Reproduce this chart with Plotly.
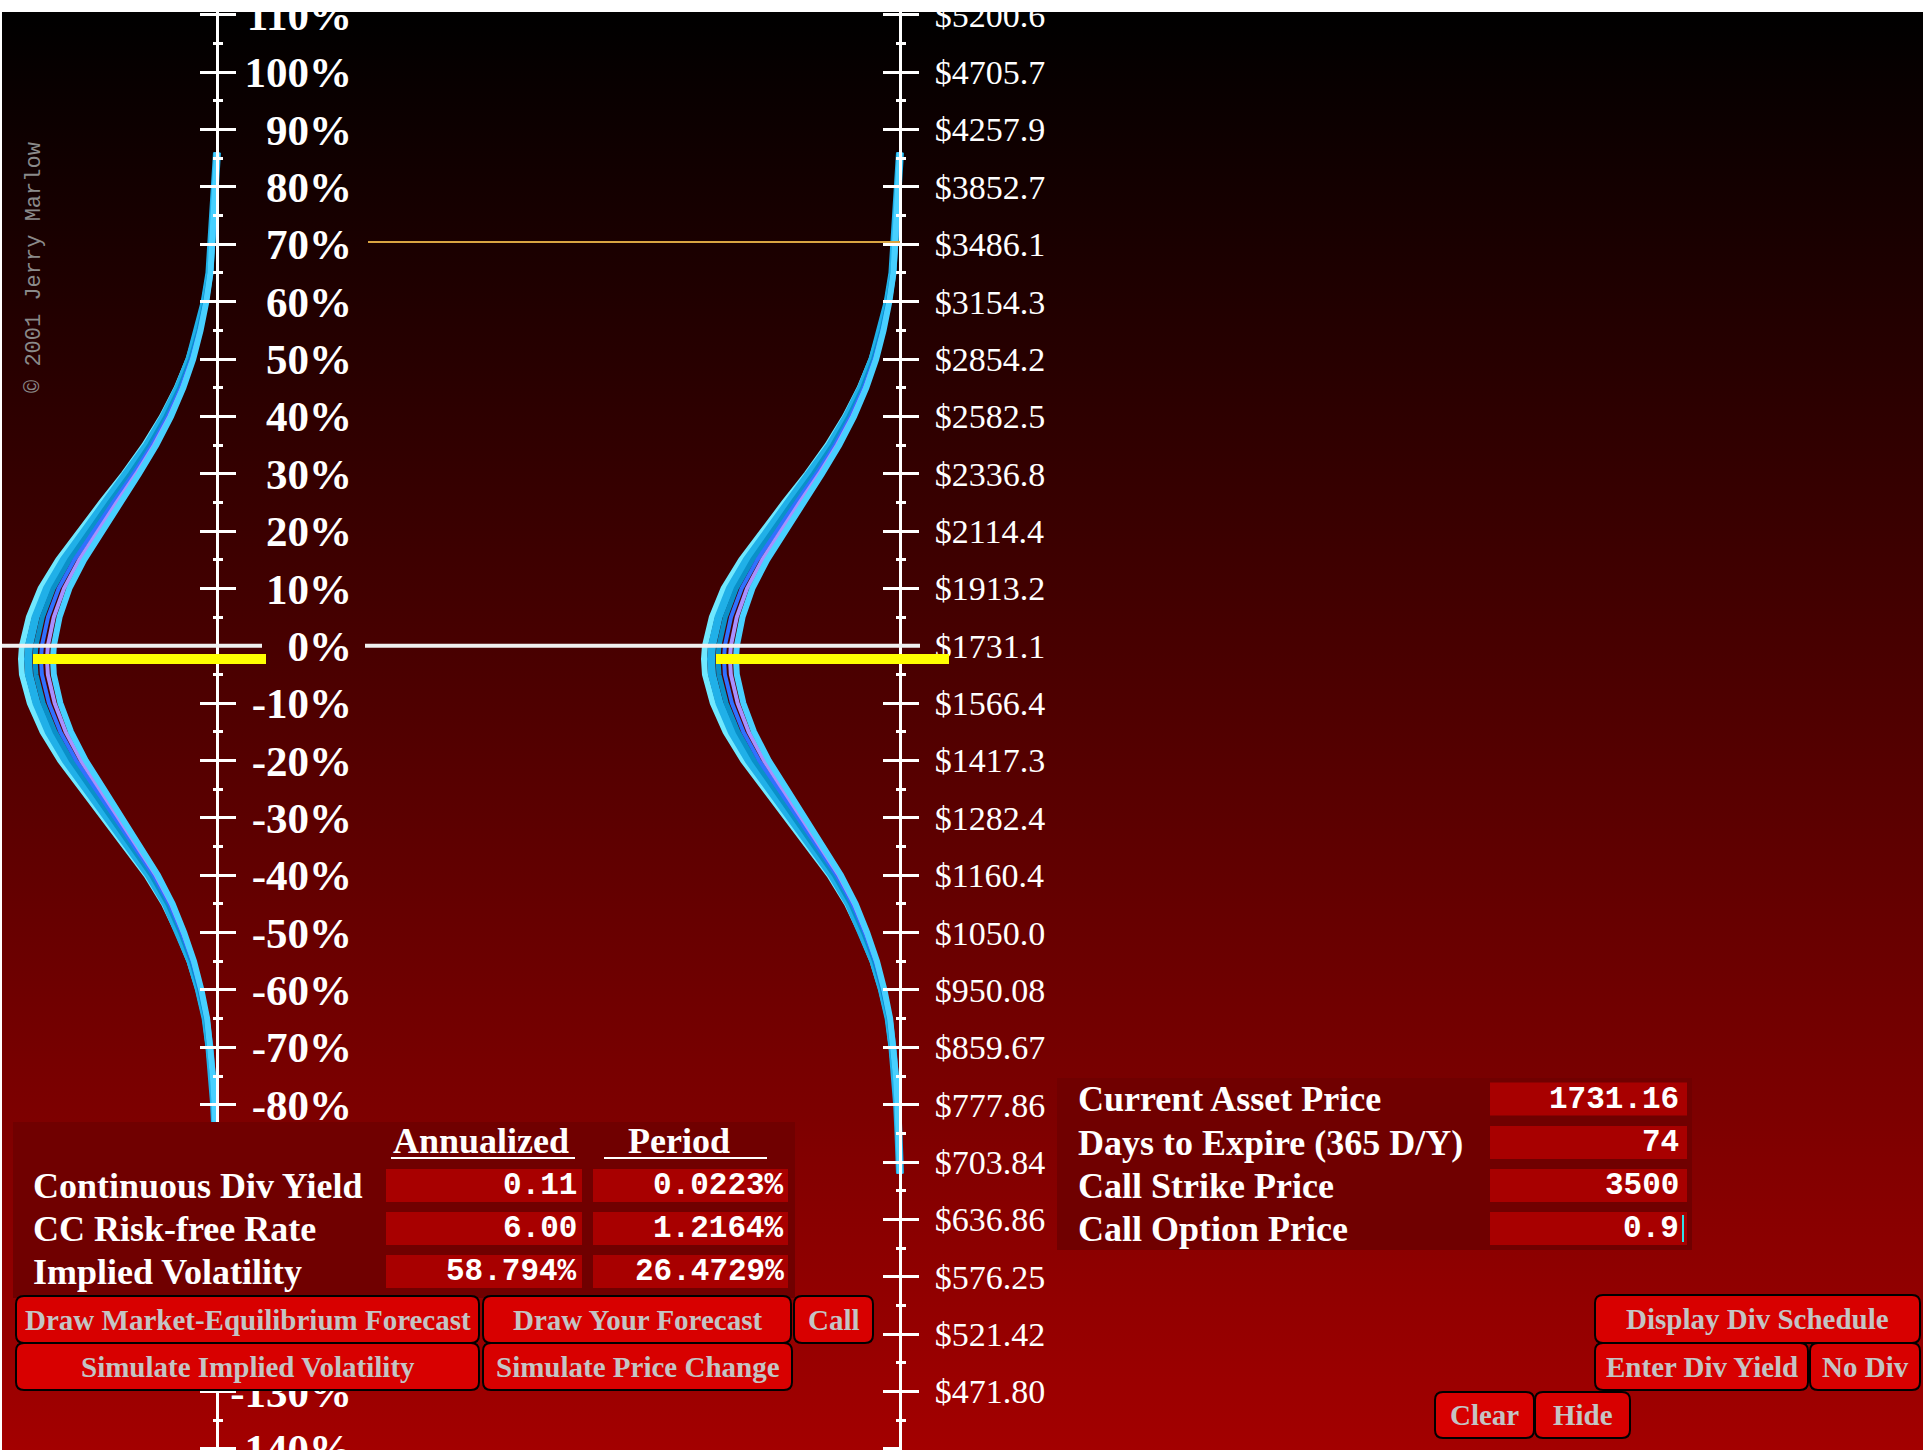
import base64
import plotly.graph_objects as go

W, H = 1923, 1450

# ---- chart data ----
pct_ticks = [110, 100, 90, 80, 70, 60, 50, 40, 30, 20, 10, 0, -10, -20, -30, -40,
             -50, -60, -70, -80, -90, -100, -110, -120, -130, -140]
pct_labels = ["110%", "100%", "90%", "80%", "70%", "60%", "50%", "40%", "30%", "20%",
              "10%", "0%", "-10%", "-20%", "-30%", "-40%", "-50%", "-60%", "-70%",
              "-80%", "-90%", "-100%", "-110%", "-120%", "-130%", "-140%"]
minor_ticks = [105, 95, 85, 75, 65, 55, 45, 35, 25, 15, 5, -5, -15, -25, -35, -45,
               -55, -65, -75, -85, -95, -105, -115, -125, -135]
price_ticks = pct_ticks[:-1]
price_labels = ["$5200.6", "$4705.7", "$4257.9", "$3852.7", "$3486.1", "$3154.3",
                "$2854.2", "$2582.5", "$2336.8", "$2114.4", "$1913.2", "$1731.1",
                "$1566.4", "$1417.3", "$1282.4", "$1160.4", "$1050.0", "$950.08",
                "$859.67", "$777.86", "$703.84", "$636.86", "$576.25", "$521.42",
                "$471.80"]

# forecast density: log-return (%) vs relative height of the bell
dens_ret = [86, 80, 75, 70, 65, 60, 55, 50, 45, 40, 35, 30, 25, 20, 15, 10, 5, 0, -2.3,
            -5, -10, -15, -20, -25, -30, -35, -40, -45, -50, -55, -60, -65, -70, -75,
            -80, -85, -92]
dens_val = [0.0, 0.01, 0.015, 0.025, 0.04, 0.065, 0.1, 0.145, 0.205, 0.28, 0.37, 0.475,
            0.59, 0.70, 0.81, 0.90, 0.96, 0.995, 1.0, 0.995, 0.955, 0.89, 0.80, 0.69,
            0.58, 0.47, 0.36, 0.27, 0.20, 0.14, 0.095, 0.06, 0.04, 0.025, 0.015, 0.008, 0.0]

mean_ret = -2.3      # yellow marker
strike_ret = 70.4    # strike 3500 on the price scale
zero_ret = 0

rate_rows = ["Continuous Div Yield", "CC Risk-free Rate", "Implied Volatility"]
annualized_vals = ["0.11", "6.00", "58.794%"]
period_vals = ["0.0223%", "1.2164%", "26.4729%"]
input_rows = ["Current Asset Price", "Days to Expire (365 D/Y)", "Call Strike Price",
              "Call Option Price"]
input_vals = ["1731.16", "74", "3500", "0.9"]


def px(x):
    return x / W


def py(y):
    return 1 - y / H


SERIF = "Liberation Serif"
MONO = "Liberation Mono"

fig = go.Figure()

# bell curve drawn as a band of several strokes (amplitude in px, colour, width)
layers = [(196, "#70e8ff", 6), (189, "#20b0e8", 8), (182, "#0a90c8", 5),
          (176, "#3070ff", 4), (170, "#a890ff", 4), (164, "#48d0ff", 6)]
xaxes = {}
n = 0
for a0, yref in ((217, "y"), (900, "y4")):
    for amp, color, width in layers:
        n += 1
        key = "xaxis" if n == 1 else f"xaxis{n}"
        xaxes[key] = dict(range=[a0 / amp, (a0 - W) / amp], domain=[0, 1],
                          visible=False, anchor="free", position=0, automargin=False)
        if n > 1:
            xaxes[key]["overlaying"] = "x"
        fig.add_trace(go.Scatter(
            x=dens_val, y=dens_ret, mode="lines",
            line=dict(color=color, width=width),
            xaxis="x" if n == 1 else f"x{n}", yaxis=yref,
            hoverinfo="skip", showlegend=False))

# empty traces so the extra y axes get a subplot
for ya in ("y2", "y3", "y5"):
    fig.add_trace(go.Scatter(x=[], y=[], xaxis="x", yaxis=ya, showlegend=False))

# labels that sit behind the parameter panel are not drawn
covered = [-90, -100, -110, -120]
lab_vals = [t for t in pct_ticks if t not in covered]
lab_text = [s for t, s in zip(pct_ticks, pct_labels) if t not in covered]

yrange = [-140.2, 110.5]
ydom = [0, 1 - 12 / H]
tick_common = dict(range=yrange, domain=ydom, showgrid=False, zeroline=False,
                   tickvals=pct_ticks, anchor="free", fixedrange=True,
                   ticklabeloverflow="allow", automargin=False)
minor = dict(tickvals=minor_ticks, ticks="outside", ticklen=4, tickwidth=3,
             tickcolor="white")

yaxes = {
    "yaxis": dict(tick_common, position=px(217), side="right", showline=True,
                  linecolor="white", linewidth=3, ticks="outside", ticklen=17,
                  tickwidth=3, tickcolor="white", showticklabels=False, minor=minor),
    "yaxis2": dict(tick_common, overlaying="y", position=px(217), side="left",
                   showline=False, ticks="outside", ticklen=17, tickwidth=3,
                   tickcolor="white", showticklabels=False, minor=minor),
    "yaxis3": dict(tick_common, overlaying="y", position=px(352), side="left",
                   showline=False, ticks="", tickvals=lab_vals, ticktext=lab_text,
                   tickfont=dict(family=SERIF, size=43, color="white", weight="bold")),
    "yaxis4": dict(tick_common, overlaying="y", position=px(900), side="right",
                   showline=True, linecolor="white", linewidth=3, ticks="outside",
                   ticklen=17, tickwidth=3, tickcolor="white", tickvals=price_ticks,
                   ticktext=price_labels, ticklabelstandoff=9,
                   tickfont=dict(family=SERIF, size=34, color="white"), minor=minor),
    "yaxis5": dict(tick_common, overlaying="y", position=px(900), side="left",
                   showline=False, ticks="outside", ticklen=17, tickwidth=3,
                   tickcolor="white", showticklabels=False, minor=minor),
}

shapes = []


def hline(y, x0, x1, color, width):
    shapes.append(dict(type="line", xref="paper", yref="y", x0=px(x0), x1=px(x1),
                       y0=y, y1=y, line=dict(color=color, width=width), layer="above"))


hline(zero_ret, 2, 262, "#f0f0f0", 4)
hline(zero_ret, 365, 920, "#f0f0f0", 4)
hline(strike_ret, 368, 900, "#d9a441", 2)
hline(mean_ret, 33, 266, "#ffff00", 10)
hline(mean_ret, 716, 949, "#ffff00", 10)


def rect(x0, y0, x1, y1, color):
    shapes.append(dict(type="rect", xref="paper", yref="paper", x0=px(x0), x1=px(x1),
                       y0=py(y1), y1=py(y0), fillcolor=color, line=dict(width=0),
                       layer="above"))


def button(x0, y0, x1, y1, r=8):
    pts = [("M", x0 + r, y0), ("L", x1 - r, y0), ("Q", x1, y0, x1, y0 + r),
           ("L", x1, y1 - r), ("Q", x1, y1, x1 - r, y1), ("L", x0 + r, y1),
           ("Q", x0, y1, x0, y1 - r), ("L", x0, y0 + r), ("Q", x0, y0, x0 + r, y0)]
    path = ""
    for p in pts:
        coords = [f"{px(p[i]):.5f},{py(p[i + 1]):.5f}" for i in range(1, len(p), 2)]
        path += p[0] + " ".join(coords) + " "
    shapes.append(dict(type="path", xref="paper", yref="paper", path=path + "Z",
                       fillcolor="#d80000", line=dict(color="black", width=2),
                       layer="above"))


annotations = []


def label(text, x, y, size, family=SERIF, color="white", anchor="left", bold=False,
          angle=0):
    annotations.append(dict(text=text, x=px(x), y=py(y), xref="paper", yref="paper",
                            xanchor=anchor, yanchor="middle", showarrow=False,
                            textangle=angle,
                            font=dict(family=family, size=size, color=color,
                                      weight="bold" if bold else "normal")))


# left parameter panel
rect(13, 1122, 795, 1298, "#700000")
label("Annualized", 481, 1141, 36, bold=True, anchor="center")
label("Period", 679, 1141, 36, bold=True, anchor="center")
shapes.append(dict(type="line", xref="paper", yref="paper", x0=px(391), x1=px(575),
                   y0=py(1158), y1=py(1158), line=dict(color="white", width=2),
                   layer="above"))
shapes.append(dict(type="line", xref="paper", yref="paper", x0=px(604), x1=px(767),
                   y0=py(1158), y1=py(1158), line=dict(color="white", width=2),
                   layer="above"))
row_y = [1185.5, 1228.5, 1271.5]
for name, ann, per, yc in zip(rate_rows, annualized_vals, period_vals, row_y):
    rect(386, yc - 16.5, 582, yc + 16.5, "#a80000")
    rect(593, yc - 16.5, 788, yc + 16.5, "#a80000")
    label(name, 31, yc, 36, bold=True)
    label(ann, 579, yc, 31, family=MONO, anchor="right", bold=True)
    label(per, 786, yc, 31, family=MONO, anchor="right", bold=True)

# right input panel
rect(1057, 1078, 1692, 1250, "#700000")
in_y = [1099, 1142.5, 1185.5, 1228.5]
for name, val, yc in zip(input_rows, input_vals, in_y):
    rect(1490, yc - 16.5, 1687, yc + 16.5, "#a80000")
    label(name, 1076, yc, 36, bold=True)
    label(val, 1681, yc, 31, family=MONO, anchor="right", bold=True)
shapes.append(dict(type="line", xref="paper", yref="paper", x0=px(1683), x1=px(1683),
                   y0=py(1242), y1=py(1215), line=dict(color="#30e0e8", width=2),
                   layer="above"))

# buttons
buttons = [("Draw Market-Equilibrium Forecast", 16, 1296, 479, 1343),
           ("Draw Your Forecast", 483, 1296, 791, 1343),
           ("Call", 794, 1296, 873, 1343),
           ("Simulate Implied Volatility", 16, 1343, 479, 1390),
           ("Simulate Price Change", 483, 1343, 792, 1390),
           ("Display Div Schedule", 1595, 1295, 1920, 1343),
           ("Enter Div Yield", 1595, 1343, 1808, 1390),
           ("No Div", 1810, 1343, 1920, 1390),
           ("Clear", 1435, 1392, 1534, 1438),
           ("Hide", 1535, 1392, 1630, 1438)]
for text, x0, y0, x1, y1 in buttons:
    button(x0, y0, x1, y1)
    label(text, (x0 + x1) / 2, (y0 + y1) / 2, 29, color="#c4c4c4", anchor="center",
          bold=True)

label("\u00a9 2001 Jerry Marlow", 34, 268, 22, family=MONO, color="#8a8a8a",
      anchor="center", angle=-90)

# black-to-red backdrop
svg = ('<svg xmlns="http://www.w3.org/2000/svg" width="100" height="100" '
       'preserveAspectRatio="none" viewBox="0 0 100 100"><defs>'
       '<linearGradient id="g" x1="0" y1="0" x2="0" y2="1">'
       '<stop offset="0" stop-color="#000000"/><stop offset="1" stop-color="#a30000"/>'
       '</linearGradient></defs><rect width="100" height="100" fill="url(#g)"/></svg>')
bg_src = "data:image/svg+xml;base64," + base64.b64encode(svg.encode()).decode()

fig.update_layout(
    width=W, height=H,
    margin=dict(l=0, r=0, t=0, b=0, pad=0, autoexpand=False),
    paper_bgcolor="white",
    plot_bgcolor="rgba(0,0,0,0)",
    showlegend=False,
    images=[dict(source=bg_src, xref="paper", yref="paper", x=px(2), y=py(12),
                 sizex=1 - px(2), sizey=py(12), sizing="stretch", layer="below",
                 xanchor="left", yanchor="top")],
    shapes=shapes,
    annotations=annotations,
    **xaxes, **yaxes,
)

fig.write_html("out.html", config={"displayModeBar": False},
               post_script="document.body.style.margin='0';"
                           "document.body.style.overflow='hidden';")
